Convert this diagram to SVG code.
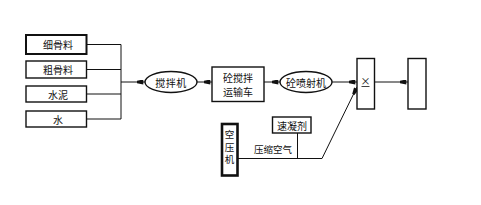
<svg xmlns="http://www.w3.org/2000/svg" width="481" height="205" viewBox="0 0 481 205">
<defs>
<style>
text{font-family:"Noto Sans CJK SC","Liberation Sans",sans-serif;font-size:10px;fill:#111;text-anchor:middle;dominant-baseline:central}
.b{fill:#fff;stroke:#111;stroke-width:1.4}
.c{fill:none;stroke:#111;stroke-width:1}
.v{font-size:9.5px}
</style>
<marker id="a" viewBox="0 0 8 6" refX="10" refY="3" markerWidth="7" markerHeight="5" markerUnits="userSpaceOnUse" orient="auto">
<path d="M0,1.5 L8,0 L8,6 L0,4.5 Z" fill="#111"/>
</marker>
</defs>
<rect width="481" height="205" fill="#fff"/>
<g id="connectors">
<path class="c" d="M87,44.5 H121 M87,69.5 H121 M87,94 H121 M87,119 H121 M121,44.5 V119"/>
<path class="c" d="M121,82 H145" marker-end="url(#a)"/>
<path class="c" d="M197,82 H212" marker-end="url(#a)"/>
<path class="c" d="M264,82 H280" marker-end="url(#a)"/>
<path class="c" d="M332,82 H357" marker-end="url(#a)"/>
<path class="c" d="M374,82 H408" marker-end="url(#a)"/>
<path class="c" d="M238,158.5 H322 L357,87" marker-end="url(#a)"/>
<path class="c" d="M297.5,133 V158.5"/>
</g>
<g id="n1"><rect class="b" x="26" y="35" width="60.5" height="19" style="stroke-width:2"/><text x="58" y="44.5">细骨料</text></g>
<g id="n2"><rect class="b" x="26" y="61" width="60.5" height="17"/><text x="58" y="69.5">粗骨料</text></g>
<g id="n3"><rect class="b" x="26" y="86" width="60.5" height="16"/><text x="58" y="94">水泥</text></g>
<g id="n4"><rect class="b" x="26" y="111" width="60.5" height="16"/><text x="58" y="119">水</text></g>
<g id="n5"><ellipse class="b" cx="171" cy="82" rx="26" ry="10.5"/><text x="171" y="82" style="letter-spacing:0.5px">搅拌机</text></g>
<g id="n6"><rect class="b" x="212" y="67" width="52" height="34.5"/><text x="238" y="77.5">砼搅拌</text><text x="238" y="91.5">运输车</text></g>
<g id="n7"><ellipse class="b" cx="306" cy="82" rx="26" ry="10.5"/><text x="306" y="82">砼喷射机</text></g>
<g id="n8"><rect class="b" x="357" y="58.5" width="17.5" height="50.5"/><text x="365.5" y="80" style="font-size:10px">×</text><line x1="361.5" y1="86.5" x2="369.5" y2="86.5" stroke="#111" stroke-width="0.8"/></g>
<g id="n9"><rect class="b" x="408" y="58.5" width="18" height="50.5"/></g>
<g id="n10"><rect class="b" x="222" y="124" width="15.5" height="51.5" style="stroke-width:2.6"/><text class="v" x="229.5" y="134">空</text><text class="v" x="229.5" y="146.5">压</text><text class="v" x="229.5" y="159">机</text></g>
<g id="n11"><rect class="b" x="272.5" y="117" width="38.5" height="16"/><text x="292" y="125">速凝剂</text></g>
<g id="n12"><text x="273" y="149" style="font-size:9.5px">压缩空气</text></g>
</svg>
